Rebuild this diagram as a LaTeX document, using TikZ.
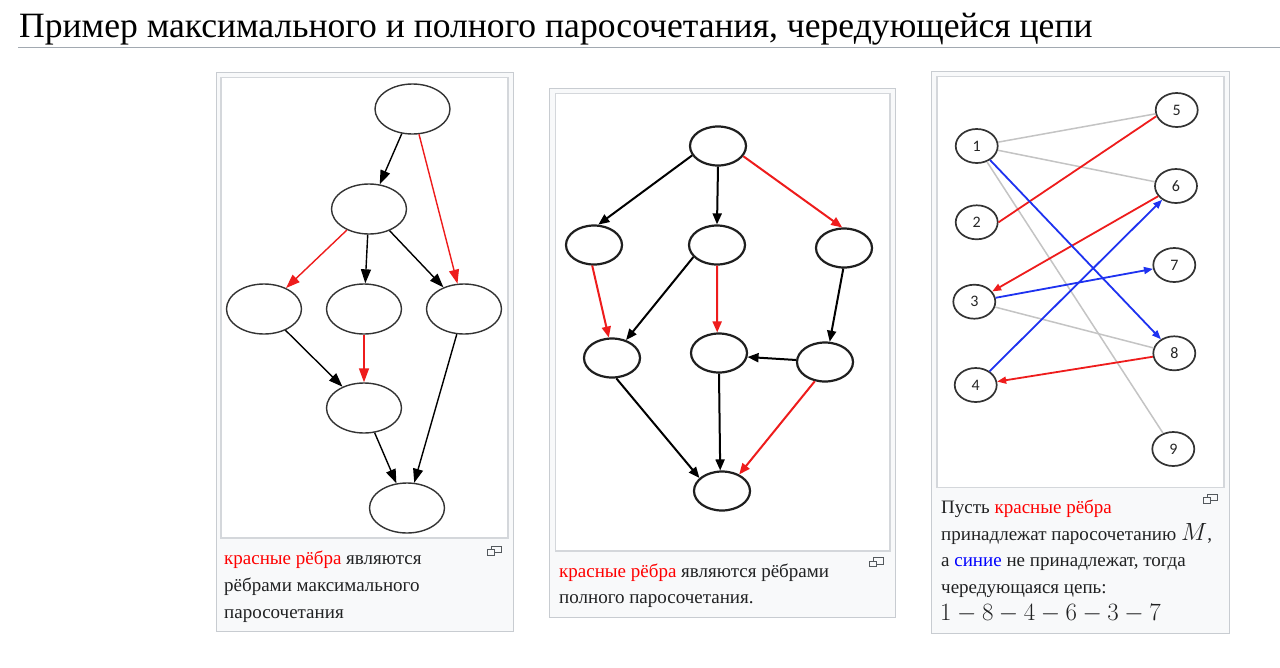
\documentclass[tikz,border=0pt]{standalone}
\usepackage[no-math]{fontspec}
\setmainfont{Liberation Serif}
\newfontfamily\labfont{Carlito}
\usetikzlibrary{shapes.geometric,arrows.meta}
\definecolor{txt}{HTML}{202122}
\definecolor{frame}{HTML}{C8CCD1}
\definecolor{imgframe}{HTML}{D4D7DB}
\definecolor{capbg}{HTML}{F8F9FA}
\definecolor{rulec}{HTML}{A2A9B1}
\definecolor{edgered}{HTML}{EE1C1C}
\definecolor{edgeblue}{HTML}{1E32F0}
\definecolor{edgegray}{HTML}{C4C4C4}
\definecolor{nodeline}{HTML}{333333}
\definecolor{capred}{HTML}{FF0000}
\definecolor{capblue}{HTML}{0000FF}
\definecolor{iconc}{HTML}{54595D}
\begin{document}
\begin{tikzpicture}[x=1pt,y=-1pt,
  panelbox/.style={draw=frame, fill=capbg, line width=1pt},
  imgbox/.style={draw=imgframe, fill=white, line width=1.2pt},
  gA/.style={ellipse, draw=nodeline, line width=1.4pt, minimum width=75pt, minimum height=50pt, inner sep=0pt},
  gB/.style={ellipse, draw=black!88, line width=2.2pt, minimum width=56pt, minimum height=39pt, inner sep=0pt},
  gC/.style={ellipse, draw=nodeline, line width=1.7pt, minimum width=42pt, minimum height=34pt, inner sep=0pt, text=black!85, font=\labfont\fontsize{16}{16}\selectfont},
  eA/.style={-{Triangle[length=14pt,width=10pt]}, line width=1.4pt, draw=black},
  eAr/.style={eA, draw=edgered, fill=edgered},
  eB/.style={-{Triangle[length=11pt,width=9pt]}, line width=2pt, draw=black},
  eBr/.style={eB, draw=edgered, fill=edgered},
  eCg/.style={line width=1.5pt, draw=edgegray},
  eCr/.style={line width=1.8pt, draw=edgered},
  eCra/.style={eCr, -{Triangle[length=9pt,width=7pt]}},
  eCba/.style={line width=1.8pt, draw=edgeblue, -{Triangle[length=9pt,width=7pt]}},
  captext/.style={anchor=base west, inner sep=0pt, text=txt, font=\fontsize{19}{22}\selectfont},
  magicon/.pic={
    \draw[iconc, line width=1pt] (4,0) rectangle (14,6.5);
    \filldraw[iconc, fill=capbg, line width=1pt] (0,3.5) rectangle (7,9);
  }
]
\useasboundingbox (0,0) rectangle (1280,667);
\fill[white] (0,0) rectangle (1280,667);

% title
\node[anchor=base west, inner sep=0pt, text=black, font=\fontsize{35.6}{36}\selectfont] (title) at (19,37) {Пример максимального и полного паросочетания, чередующейся цепи};
\draw[rulec, line width=1pt] (18,47.5) -- (1280,47.5);

% panel frames
\draw[panelbox] (216,72.5) rectangle (513,631.5);
\draw[imgbox] (221,77.5) rectangle (508,538);
\draw[panelbox] (549.5,88) rectangle (895,617);
\draw[imgbox] (555.5,93.5) rectangle (890,551);
\draw[panelbox] (931.5,71.5) rectangle (1229,633);
\draw[imgbox] (937,76.5) rectangle (1224,487.5);

% ---- panel 1
\node[gA] (a1) at (412.5,109) {};
\node[gA] (a2) at (369,209) {};
\node[gA] (a3) at (264,309) {};
\node[gA] (a4) at (364,309) {};
\node[gA] (a5) at (464,309) {};
\node[gA] (a6) at (364,408) {};
\node[gA] (a7) at (407,508) {};
\draw[eA] (a1) -- (a2);
\draw[eAr] (a1) -- (a5);
\draw[eAr] (a2) -- (a3);
\draw[eA] (a2) -- (a4);
\draw[eA] (a2) -- (a5);
\draw[eA] (a3) -- (a6);
\draw[eAr] (a4) -- (a6);
\draw[eA] (a5) -- (a7);
\draw[eA] (a6) -- (a7);

\node[captext] (c1a) at (224,564) {\textcolor{capred}{красные рёбра} являются};
\node[captext] (c1b) at (224,591) {рёбрами максимального};
\node[captext] (c1c) at (224,618) {паросочетания};
\pic at (487.5,546) {magicon};

% ---- panel 2
\node[gB] (b1) at (718,146) {};
\node[gB] (b2) at (594,245) {};
\node[gB] (b3) at (717,245) {};
\node[gB] (b4) at (844,248) {};
\node[gB] (b5) at (612,358) {};
\node[gB] (b6) at (719,353) {};
\node[gB] (b7) at (825,362) {};
\node[gB] (b8) at (722,491) {};
\draw[eB] (b1.200) -- (b2.78);
\draw[eB] (b1.south) -- (b3.north);
\draw[eBr] (b1.338) -- (b4.95);
\draw[eBr] (b2.265) -- (b5.99);
\draw[eB] (b3.207) -- (b5.52);
\draw[eBr] (b3.south) -- (b6.95);
\draw[eB] (b4.268) -- (b7.77);
\draw[eB] (b7.176) -- (b6.352);
\draw[eB] (b5.282) -- (b8.150);
\draw[eB] (b6.south) -- (b8.95);
\draw[eBr] (b7.242) -- (b8.44);

\node[captext] (c2a) at (559,577) {\textcolor{capred}{красные рёбра} являются рёбрами};
\node[captext] (c2b) at (559,603) {полного паросочетания.};
\pic at (869,557.5) {magicon};

% ---- panel 3
\node[gC] (n1) at (976.7,146) {1};
\node[gC] (n2) at (976.7,222.3) {2};
\node[gC] (n3) at (974.3,301.7) {3};
\node[gC] (n4) at (975.7,385) {4};
\node[gC] (n5) at (1176.7,110) {5};
\node[gC] (n6) at (1176,186) {6};
\node[gC] (n7) at (1174.3,265) {7};
\node[gC] (n8) at (1174.3,353.3) {8};
\node[gC] (n9) at (1173.3,449) {9};
\draw[eCg] (n1) -- (n5);
\draw[eCg] (n1) -- (n6);
\draw[eCg] (n1) -- (n9);
\draw[eCg] (n3) -- (n8);
\draw[eCr] (n2.east) -- (n5.197);
\draw[eCra] (n6) -- (n3);
\draw[eCra] (n8) -- (n4);
\draw[eCba] (n1) -- (n8);
\draw[eCba] (n3) -- (n7);
\draw[eCba] (n4) -- (n6);

\node[captext] (c3a) at (941,513) {Пусть \textcolor{capred}{красные рёбра}};
\node[captext] (c3b) at (941,540) {принадлежат паросочетанию {\fontsize{24}{24}\selectfont$M$},};
\node[captext] (c3c) at (941,566) {а \textcolor{capblue}{синие} не принадлежат, тогда};
\node[captext] (c3d) at (941,593) {чередующаяся цепь:};
\node[anchor=base west, inner sep=0pt, text=txt, font=\fontsize{24}{24}\selectfont] (c3e) at (940,620) {$1-8-4-6-3-7$};
\pic at (1203,494) {magicon};
\end{tikzpicture}
\end{document}
